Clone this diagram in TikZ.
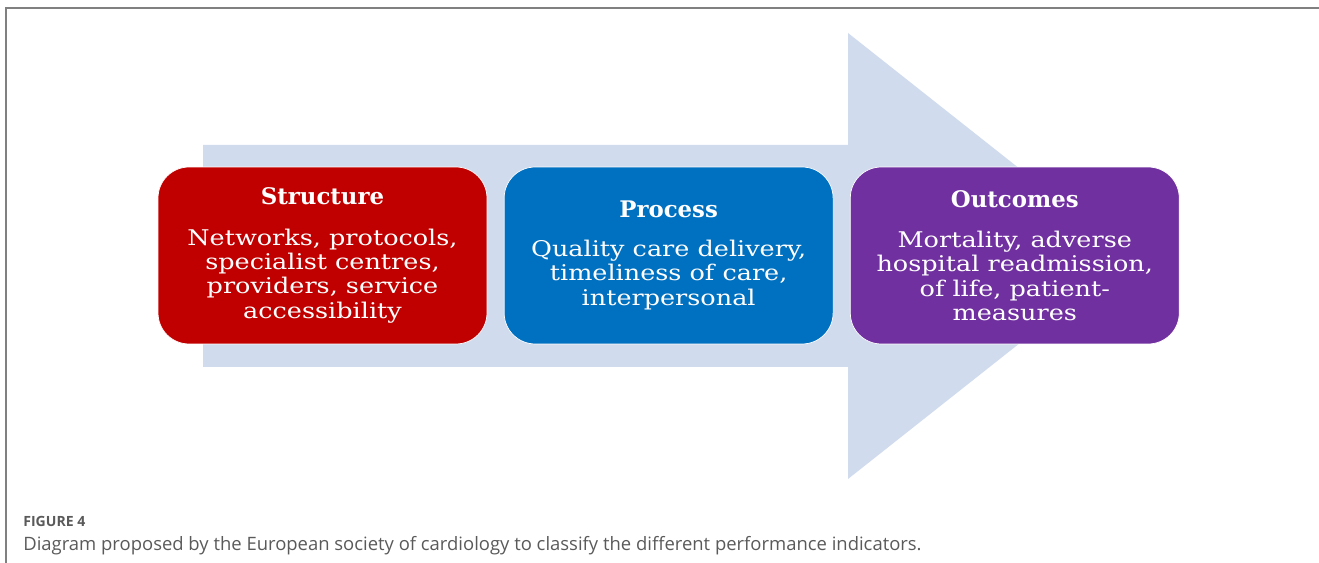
\documentclass[tikz,border=0pt]{standalone}
\usepackage{fontspec}
\newfontfamily\boxfont[FakeStretch=1.18]{DejaVu Serif}
\newfontfamily\titlefont{DejaVu Serif}
\newfontfamily\capfont{Open Sans}
\usetikzlibrary{positioning}
\definecolor{arrowblue}{RGB}{208,219,237}
\definecolor{structred}{RGB}{192,0,0}
\definecolor{procblue}{RGB}{0,112,192}
\definecolor{outpurple}{RGB}{112,48,160}
\definecolor{capgray}{RGB}{90,90,90}
\newcommand{\boxtitle}[1]{{\titlefont\bfseries\fontsize{13}{13.9}\selectfont #1}}

\begin{document}
\begin{tikzpicture}[x=0.02cm, y=-0.02cm, node distance=0.33cm,
    box/.style={rectangle, rounded corners=0.62cm, minimum width=6.58cm, minimum height=3.54cm,
        draw=white, line width=0.4pt, text=white, align=center, inner sep=0pt,
        font=\boxfont\fontsize{12.3}{13.9}\selectfont},
    caption/.style={anchor=base west, inner sep=0pt, text=capgray}]
    \useasboundingbox (0,0) rectangle (1319,563);
    \draw[gray, line width=1pt] (6,563) -- (6,8) -- (1319,8);
    \fill[arrowblue] (203,145) -- (848,145) -- (848,33) -- (1130,256) -- (848,479) -- (848,367) -- (203,367) -- cycle;

    \node[box, fill=structred] (S) at (322.5,255.5) {\boxtitle{Structure}\\[9pt] Networks, protocols,\\ specialist centres,\\ providers, service\\ accessibility};
    \node[box, fill=procblue] (P) [right=of S] {\boxtitle{Process}\\[8pt] Quality care delivery,\\ timeliness of care,\\ interpersonal};
    \node[box, fill=outpurple] (O) [right=of P] {\boxtitle{Outcomes}\\[9pt] Mortality, adverse\\ hospital readmission,\\ of life, patient-\\ measures};

    \node[caption, font=\capfont\bfseries\fontsize{8}{10}\selectfont] (fig) at (23,527) {FIGURE 4};
    \node[caption, font=\capfont\fontsize{10.5}{12}\selectfont] (cap) at (23,551) {Diagram proposed by the European society of cardiology to classify the different performance indicators.};
\end{tikzpicture}
\end{document}
